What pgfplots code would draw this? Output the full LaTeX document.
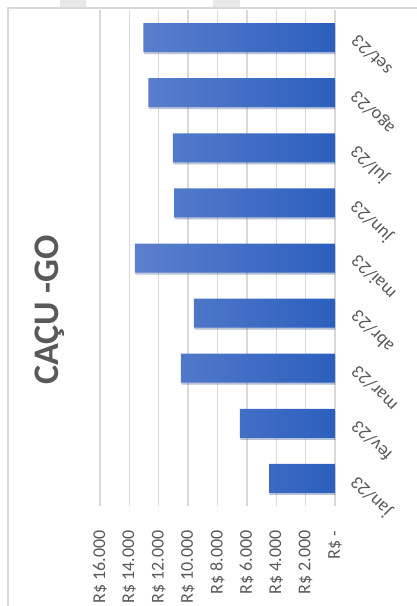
\documentclass[border=0pt]{standalone}
\usepackage{pgfplots}
\pgfplotsset{compat=1.18}
\usepackage{fontspec}
\setmainfont{Carlito}
\usetikzlibrary{shadows}
\definecolor{gridc}{RGB}{217,217,217}
\definecolor{txt}{RGB}{89,89,89}
\definecolor{barL}{RGB}{92,128,205}
\definecolor{barR}{RGB}{44,95,190}
\begin{document}
\begin{tikzpicture}[x=1pt,y=1pt]
\useasboundingbox (0,0) rectangle (417,606);
\fill[gray!18] (60,606) rectangle (86,599);
\fill[gray!18] (213,606) rectangle (240,599);
\draw[gridc, line width=1.2pt] (8,0) -- (8,598) -- (417,598);
\begin{axis}[
  at={(100pt,100pt)}, anchor=south west,
  width=235pt, height=496pt, scale only axis,
  xbar, bar width=29pt,
  x dir=reverse,
  xmin=0, xmax=16000, ymin=0.5, ymax=9.5,
  scaled x ticks=false,
  xtick={0,2000,...,16000},
  xticklabels={R\$ -\hspace{10pt},R\$ 2.000,R\$ 4.000,R\$ 6.000,R\$ 8.000,R\$ 10.000,R\$ 12.000,R\$ 14.000,R\$ 16.000},
  ytick={1,...,9},
  yticklabels={jan/23,fev/23,mar/23,abr/23,mai/23,jun/23,jul/23,ago/23,set/23},
  xmajorgrids, grid style={gridc, line width=1.3pt},
  axis line style={draw=none},
  major tick length=0pt,
  xticklabel pos=left, yticklabel pos=right,
  xticklabel style={yshift=-21pt, rotate=90, anchor=east, font=\fontsize{18}{20}\selectfont, text=txt},
  yticklabel style={xshift=17pt, yshift=2pt, rotate=135, anchor=east, font=\fontsize{18.5}{20}\selectfont, text=txt},
  clip=false,
]
\addplot[draw=none, left color=barL, right color=barR,
  drop shadow={shadow xshift=0.5pt, shadow yshift=-2pt, opacity=0.25}]
  coordinates {(4490,1) (6470,2) (10490,3) (9600,4) (13620,5) (10960,6) (11030,7) (12710,8) (13050,9)};
\end{axis}
\node[rotate=90, font=\bfseries\fontsize{36}{40}\selectfont, text=txt] at (50,296) {CAÇU -GO};
\end{tikzpicture}
\end{document}
